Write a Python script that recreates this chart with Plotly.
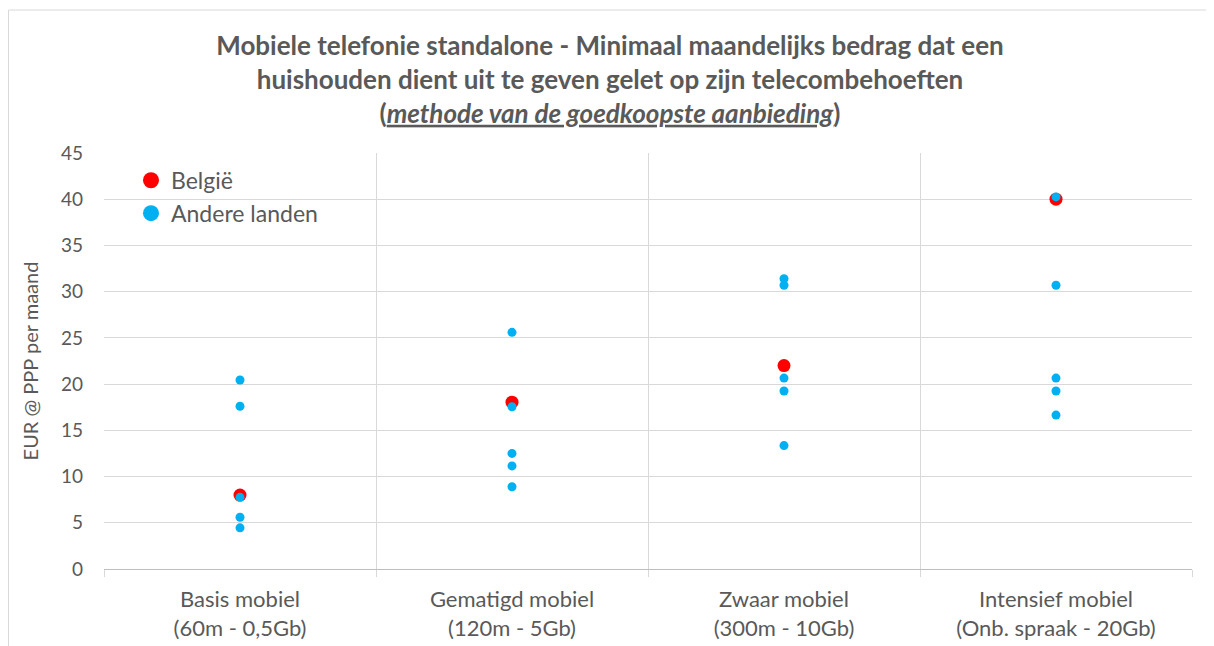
import plotly.graph_objects as go

categories = ["Basis mobiel<br>(60m - 0,5Gb)", "Gematigd mobiel<br>(120m - 5Gb)",
              "Zwaar mobiel<br>(300m - 10Gb)", "Intensief mobiel<br>(Onb. spraak - 20Gb)"]
belgie = [8.0, 18.05, 22.0, 40.0]
andere_basis = [20.45, 17.6, 7.75, 5.6, 4.45]
andere_gematigd = [25.6, 17.55, 12.5, 11.15, 8.9]
andere_zwaar = [31.4, 30.7, 20.65, 19.25, 13.35]
andere_intensief = [40.25, 30.7, 20.65, 19.25, 16.65]
y_ticks = [0, 5, 10, 15, 20, 25, 30, 35, 40, 45]

RED = "#ff0000"
BLUE = "#00b0f0"
GREY = "#595959"
FONT = "Lato"

andere_x = []
andere_y = []
for cat, vals in zip(categories, [andere_basis, andere_gematigd, andere_zwaar, andere_intensief]):
    andere_x += [cat] * len(vals)
    andere_y += vals

fig = go.Figure()
fig.add_trace(go.Scatter(x=categories, y=belgie, mode="markers", showlegend=False,
                         marker=dict(color=RED, size=13), hoverinfo="y"))
fig.add_trace(go.Scatter(x=andere_x, y=andere_y, mode="markers", showlegend=False,
                         marker=dict(color=BLUE, size=9), hoverinfo="y"))
# legend entries
fig.add_trace(go.Scatter(x=[None], y=[None], mode="markers", name="België",
                         marker=dict(color=RED, size=20)))
fig.add_trace(go.Scatter(x=[None], y=[None], mode="markers", name="Andere landen",
                         marker=dict(color=BLUE, size=20)))

# plot area in figure coords (page is offset by 8px body margin)
L, T, W, H = 96, 145, 1088, 416

fig.update_layout(
    width=1214, height=646,
    margin=dict(l=L, r=1214 - L - W, t=T, b=646 - T - H),
    paper_bgcolor="white", plot_bgcolor="white",
    font=dict(family=FONT, color=GREY),
    title=dict(
        text="<b>Mobiele telefonie standalone - Minimaal maandelijks bedrag dat een<br>"
             "huishouden dient uit te geven gelet op zijn telecombehoeften<br>"
             "(<i><u>methode van de goedkoopste aanbieding</u></i>)</b>",
        x=(602 - L) / W, xref="paper", xanchor="center", y=0.927, yanchor="top",
        font=dict(family=FONT, size=26, color=GREY),
    ),
    legend=dict(x=(123 - L) / W, y=0.986, xanchor="left", yanchor="top",
                bgcolor="rgba(0,0,0,0)", font=dict(family=FONT, size=23, color=GREY),
                tracegroupgap=0),
    showlegend=True,
    xaxis=dict(type="category", categoryorder="array", categoryarray=categories,
               range=[-0.5, 3.5], tickson="boundaries", showgrid=True,
               gridcolor="#d9d9d9", gridwidth=1, ticks="outside", ticklen=7,
               tickcolor="#d9d9d9", showline=True, linecolor="#bfbfbf",
               ticklabelstandoff=11,
               tickfont=dict(family=FONT, size=22, color=GREY), zeroline=False),
    yaxis=dict(range=[0, 45], tickvals=y_ticks, showgrid=True, gridcolor="#d9d9d9",
               gridwidth=1, zeroline=False, showline=False, ticklabelstandoff=20,
               tickfont=dict(family=FONT, size=19, color=GREY),
               title=dict(text="EUR @ PPP per maand", font=dict(family=FONT, size=20, color=GREY),
                          standoff=16)),
    shapes=[dict(type="rect", xref="paper", yref="paper",
                 x0=(0.5 - L) / W, x1=(1200 - L) / W,
                 y0=(T + H - 700) / H, y1=(T + H - 2) / H,
                 line=dict(color="#d9d9d9", width=1), layer="below")],
)

fig.write_html("out.html")
